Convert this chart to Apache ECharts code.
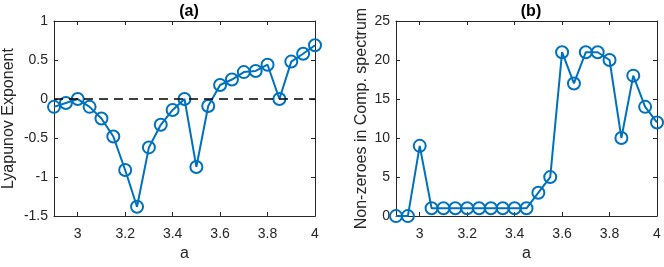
<!DOCTYPE html>
<html>
<head>
<meta charset="utf-8">
<script src="https://cdn.jsdelivr.net/npm/echarts@6/dist/echarts.min.js"></script>
<style>html,body{margin:0;padding:0;background:#fff}#c{width:664px;height:267px}</style>
</head>
<body>
<div id="c"></div>
<script>
const aValues = [2.9,2.95,3.0,3.05,3.1,3.15,3.2,3.25,3.3,3.35,3.4,3.45,3.5,3.55,3.6,3.65,3.7,3.75,3.8,3.85,3.9,3.95,4.0];
const lyapunov = [-0.10,-0.05,0.0,-0.10,-0.25,-0.48,-0.91,-1.38,-0.62,-0.33,-0.14,0.0,-0.87,-0.09,0.18,0.25,0.345,0.36,0.44,0.0,0.48,0.58,0.69];
const nonZeroes = [0,0,9,1,1,1,1,1,1,1,1,1,3,5,21,17,21,21,20,10,18,14,12];
const xTicks = [3,3.2,3.4,3.6,3.8,4];
const titles = ['(a)','(b)'];
const yNames = ['Lyapunov Exponent','Non-zeroes in Comp. spectrum'];

const C = '#262626';
const BLUE = '#0072BD';
const FONT = '"Liberation Sans", Arial, sans-serif';

const grids = [
  {left:54, right:349, top:21, bottom:48},
  {left:396, right:7, top:21, bottom:48}
];

function xAx(g, main){
  return {
    type:'value', gridIndex:g, min:2.9, max:4, position: main?'bottom':'top',
    name: main?'a':'', nameLocation:'middle', nameGap:29,
    nameTextStyle:{color:C, fontSize:16, fontFamily:FONT},
    axisLine:{show:true, onZero:false, lineStyle:{color:C, width:1}},
    axisTick:{show:true, inside:true, length:4, customValues:xTicks, lineStyle:{color:C}},
    axisLabel:{show:main, customValues:xTicks, color:C, fontSize:14, fontFamily:FONT, margin:11},
    splitLine:{show:false}
  };
}
function yAx(g, main, min, max, interval){
  return {
    type:'value', gridIndex:g, min:min, max:max, interval:interval, position: main?'left':'right',
    name: main?yNames[g]:'', nameLocation:'middle', nameGap: g===0?37:26,
    nameTextStyle:{color:C, fontSize:16, fontFamily:FONT},
    axisLine:{show:true, onZero:false, lineStyle:{color:C, width:1}},
    axisTick:{show:true, inside:true, length:4, lineStyle:{color:C}},
    axisLabel:{show:main, color:C, fontSize:14, fontFamily:FONT, margin:6},
    splitLine:{show:false}
  };
}

const chart = echarts.init(document.getElementById('c'), null, {renderer:'canvas'});
chart.setOption({
  animation:false,
  backgroundColor:'#fff',
  title: titles.map((t,i)=>({
    text:t, left: i===0?184:526, top:-1, textAlign:'center',
    textStyle:{color:'#000', fontSize:16, fontWeight:'bold', fontFamily:FONT}
  })),
  grid: grids,
  xAxis:[xAx(0,true), xAx(0,false), xAx(1,true), xAx(1,false)],
  yAxis:[yAx(0,true,-1.5,1,0.5), yAx(0,false,-1.5,1,0.5), yAx(1,true,0,25,5), yAx(1,false,0,25,5)],
  series:[
    {
      type:'line', xAxisIndex:0, yAxisIndex:0,
      data: aValues.map((x,i)=>[x, lyapunov[i]]),
      clip:false,
      symbol:'circle', symbolSize:12,
      lineStyle:{color:BLUE, width:2},
      itemStyle:{color:'rgba(0,0,0,0)', borderColor:BLUE, borderWidth:2},
      markLine:{
        silent:true, symbol:['none','none'], label:{show:false},
        lineStyle:{color:'#000', type:[9,6], width:1.5},
        data:[{yAxis:0}]
      },
      z:2
    },
    {
      type:'line', xAxisIndex:2, yAxisIndex:2,
      data: aValues.map((x,i)=>[x, nonZeroes[i]]),
      clip:false,
      symbol:'circle', symbolSize:12,
      lineStyle:{color:BLUE, width:2},
      itemStyle:{color:'rgba(0,0,0,0)', borderColor:BLUE, borderWidth:2}
    }
  ]
});
</script>
</body>
</html>
